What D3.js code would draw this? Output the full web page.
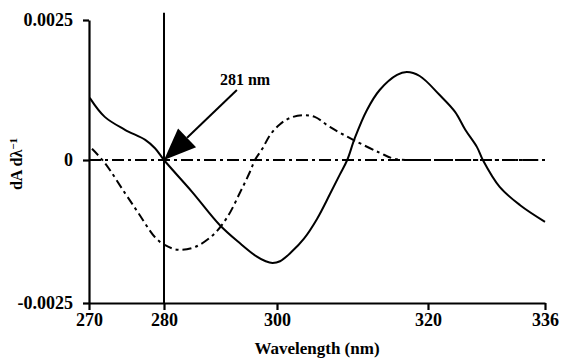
<!DOCTYPE html>
<html>
<head>
<meta charset="utf-8">
<script src="https://cdn.jsdelivr.net/npm/d3@7"></script>
<style>
  html, body { margin: 0; padding: 0; background: #fff; }
  svg { display: block; }
  text { font-family: "Liberation Serif", "Times New Roman", serif; font-weight: bold; fill: #000; }
</style>
</head>
<body>
<svg id="chart" width="564" height="358"></svg>
<script>
// ---- Data ----
const xTicks = [270, 280, 300, 320, 336];
const yTicks = [-0.0025, 0, 0.0025];
const yTickLabels = ["-0.0025", "0", "0.0025"];

// Solid curve (first-derivative spectrum)
const solidWl  = [270.1, 272.1, 274.8, 277.5, 278.8, 280.0, 285.0, 289.9, 293.5, 296.3, 298.0, 299.2, 300.4, 301.9, 303.6, 305.3, 307.0, 308.3, 309.3, 310.3, 311.9, 313.6, 315.9, 317.2, 318.9, 321.6, 323.7, 325.1, 326.7, 327.5, 329.8, 332.6, 336.0];
const solidVal = [0.00111, 0.00077, 0.00054, 0.00036, 0.00021, 0.0, -0.00056, -0.00114, -0.00146, -0.00168, -0.00177, -0.00180, -0.00177, -0.00161, -0.00137, -0.00103, -0.00060, -0.00026, 0.0, 0.00039, 0.00089, 0.00125, 0.00152, 0.00157, 0.00150, 0.00116, 0.00086, 0.00054, 0.00023, 0.0, -0.00047, -0.00079, -0.00108];

// Dash-dot curve
const dashWl  = [270.4, 272.1, 274.8, 276.5, 278.8, 280.2, 282.5, 285.5, 288.7, 291.2, 293.5, 295.2, 296.1, 297.4, 298.8, 300.4, 301.7, 303.4, 305.0, 307.0, 310.1, 313.6, 315.6, 318.9, 322.0, 326.0, 330.0, 336.0];
const dashVal = [0.00020, -0.00005, -0.00058, -0.00091, -0.00135, -0.00149, -0.00157, -0.00152, -0.00131, -0.00100, -0.00056, -0.00021, 0.0, 0.00020, 0.00045, 0.00064, 0.00075, 0.00080, 0.00077, 0.00059, 0.00036, 0.00013, 0.00002, 0.0, 0.0, 0.0, 0.0, 0.0];

// Zero baseline
const zeroWl  = [270, 336];
const zeroVal = [0, 0];

// Marker line and annotation
const markerWl = 280;
const markerTop = 0.00263;
const arrowFrom = [292.9, 0.00125];
const arrowTo   = [280, 0];
const annLabel = "281 nm";
const annPos = [289.9, 0.00134];

const xTitle = "Wavelength (nm)";

// ---- Scales ----
const svg = d3.select("#chart");
const x = d3.scaleLinear().domain(xTicks).range([89, 164, 277, 428, 545]);
const y = d3.scaleLinear().domain([-0.0025, 0, 0.0025]).range([303, 160, 20]);

const line = d3.line().x(d => x(d[0])).y(d => y(d[1])).curve(d3.curveCatmullRom.alpha(0.5));
const straight = d3.line().x(d => x(d[0])).y(d => y(d[1]));

// zero baseline dash-dot
svg.append("path")
  .attr("d", straight(d3.zip(zeroWl, zeroVal)))
  .attr("fill", "none").attr("stroke", "#000").attr("stroke-width", 2.2)
  .attr("stroke-dasharray", "12,4,3,4");

// dash-dot curve
svg.append("path")
  .attr("d", line(d3.zip(dashWl, dashVal)))
  .attr("fill", "none").attr("stroke", "#000").attr("stroke-width", 2)
  .attr("stroke-dasharray", "9,4,3,4");

// solid curve
svg.append("path")
  .attr("d", line(d3.zip(solidWl, solidVal)))
  .attr("fill", "none").attr("stroke", "#000").attr("stroke-width", 2);

// vertical marker
svg.append("line")
  .attr("x1", x(markerWl)).attr("x2", x(markerWl))
  .attr("y1", y(markerTop)).attr("y2", y(-0.0025))
  .attr("stroke", "#000").attr("stroke-width", 2);

// ---- Axes ----
const yAxis = svg.append("g").attr("transform", `translate(${x(270)},0)`)
  .call(d3.axisLeft(y).tickValues(yTicks).tickSize(6).tickSizeOuter(0).tickPadding(10)
    .tickFormat((d, i) => yTickLabels[i]));
const xAxis = svg.append("g").attr("transform", `translate(0,${y(-0.0025)})`)
  .call(d3.axisBottom(x).tickValues(xTicks).tickSize(7).tickSizeOuter(0).tickPadding(3)
    .tickFormat(d3.format("d")));
[yAxis, xAxis].forEach(g => {
  g.select(".domain").attr("stroke", "#000").attr("stroke-width", 2.2);
  g.selectAll(".tick line").attr("stroke", "#000").attr("stroke-width", 2.2);
  g.selectAll("text").attr("font-family", "Liberation Serif").attr("font-weight", "bold")
    .attr("font-size", 18).attr("fill", "#000");
});

// ---- Arrow annotation ----
const tip = [x(arrowTo[0]), y(arrowTo[1])];
const tail = [x(arrowFrom[0]), y(arrowFrom[1])];
const dx = tip[0] - tail[0], dy = tip[1] - tail[1];
const len = Math.hypot(dx, dy);
const ux = dx / len, uy = dy / len;
const headLen = 32, headW = 13;
const base = [tip[0] - ux * headLen, tip[1] - uy * headLen];
svg.append("line")
  .attr("x1", tail[0]).attr("y1", tail[1]).attr("x2", base[0]).attr("y2", base[1])
  .attr("stroke", "#000").attr("stroke-width", 2);
svg.append("polygon")
  .attr("points", [
    tip,
    [base[0] - uy * headW, base[1] + ux * headW],
    [base[0] + uy * headW, base[1] - ux * headW]
  ].map(p => p.join(",")).join(" "))
  .attr("fill", "#000");

svg.append("text")
  .attr("x", x(annPos[0])).attr("y", y(annPos[1]))
  .attr("font-size", 16)
  .text(annLabel);

// ---- Titles ----
svg.append("text")
  .attr("x", 317).attr("y", 354)
  .attr("text-anchor", "middle").attr("font-size", 17)
  .text(xTitle);

const yt = svg.append("text")
  .attr("transform", "translate(22,164) rotate(-90)")
  .attr("text-anchor", "middle").attr("font-size", 16);
yt.append("tspan").text("dA d\u03bb");
yt.append("tspan").attr("dy", "-0.5em").attr("font-size", 11).text("\u22121");
</script>
</body>
</html>
